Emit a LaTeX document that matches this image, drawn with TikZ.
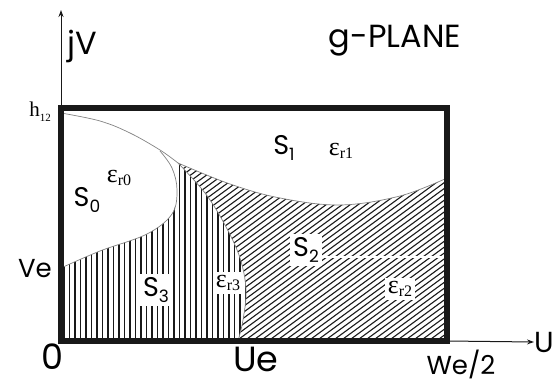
\documentclass[tikz,border=0pt]{standalone}
\usepackage{fontspec}
\setmainfont{Poppins}
\newfontfamily\grkfont{Liberation Serif}
\usepackage{tikz}
\usetikzlibrary{arrows.meta, calc}
\definecolor{mydark}{RGB}{25,25,25}
\definecolor{mycurve}{RGB}{130,130,130}
\newcommand{\sublbl}[1]{\raisebox{-0.45ex}{\fontsize{17}{17}\selectfont #1}}
\newcommand{\epsr}[1]{{\grkfont ε\raisebox{-0.3ex}{\fontsize{16}{16}\selectfont r#1}}}
\tikzset{
  frame/.style={line width=5.5pt, color=mydark},
  axis/.style={-{Stealth[length=7pt, width=5pt]}, line width=1pt, color=mydark},
  boundary/.style={line width=0.7pt, color=mycurve},
  hatch/.style={line width=1.1pt, color=mydark},
  gapline/.style={line width=1.2pt, color=white},
  bigtxt/.style={font=\fontsize{35}{38}\selectfont, inner sep=0pt},
  axtxt/.style={font=\fontsize{32}{36}\selectfont, inner sep=0pt},
  ticktxt/.style={font=\fontsize{26}{30}\selectfont, inner sep=0pt},
  regtxt/.style={font=\fontsize{27}{30}\selectfont, inner sep=1pt},
  epstxt/.style={font=\fontsize{26}{28}\selectfont, inner sep=1pt},
  htxt/.style={font=\grkfont\fontsize{21}{22}\selectfont, inner sep=0pt},
  knock/.style={fill=white, inner sep=3pt}
}
\begin{document}
\begin{tikzpicture}[x=1pt, y=-1pt]
  \useasboundingbox (0,0) rectangle (553,382);
  % ── key points ───────────────────────────────────────────────
  \coordinate (O) at (61,341);
  \coordinate (H) at (61,108);
  \coordinate (R) at (447,108);
  \coordinate (W) at (447,341);
  \coordinate (Ve) at (61,268);
  \coordinate (J) at (178,163);
  \coordinate (Utip) at (534,342);

  % ── S3: vertical hatching ────────────────────────────────────
  \begin{scope}
    \clip (Ve) -- plot[smooth, tension=0.6] coordinates {(61,268) (100,251) (147,234) (172,214) (177,190)}
      -- (J) -- plot[smooth, tension=0.6] coordinates {(178,163) (205,193) (225,225) (240,258) (246,290) (243,320) (238,341)}
      -- (O) -- cycle;
    \foreach \x in {64,69.5,...,250} \draw[hatch] (\x,150) -- (\x,345);
  \end{scope}

  % ── S2: diagonal hatching ────────────────────────────────────
  \begin{scope}
    \clip (J) -- plot[smooth, tension=0.6] coordinates {(178,163) (205,193) (225,225) (240,258) (246,290) (243,320) (238,341)}
      -- (W) -- (447,178)
      -- plot[smooth, tension=0.6] coordinates {(447,178) (400,196) (340,205) (280,198) (230,184) (178,163)} -- cycle;
    \foreach \s in {-160,-152,...,460} \draw[hatch] (\s,350) -- ++(300,-220);
  \end{scope}

  % ── region boundaries ────────────────────────────────────────
  \draw[boundary] plot[smooth, tension=0.6] coordinates {(61,113) (100,121) (130,133) (160,150) (178,163)};
  \draw[boundary] plot[smooth, tension=0.6] coordinates {(178,163) (230,184) (280,198) (340,205) (400,196) (447,178)};
  \draw[boundary] plot[smooth, tension=0.6] coordinates {(61,268) (100,251) (147,234) (172,214) (177,190) (172,168) (160,151)};
  \draw[boundary] plot[smooth, tension=0.6] coordinates {(178,163) (205,193) (225,225) (240,258) (246,290) (243,320) (238,341)};

  % ── frame and axes ───────────────────────────────────────────
  \draw[axis] (O) -- (61,10);
  \draw[axis] (W) -- (Utip);
  \draw[frame] (O) rectangle (R);

  % ── labels in hatched areas (knocked out) ────────────────────
  \node[regtxt, knock] (s3) at (156,290) {S\sublbl{3}};
  \node[epstxt, knock] (e3) at (228,283) {\epsr{3}};
  \node[regtxt, knock] (s2) at (306,250) {S\sublbl{2}};
  \node[epstxt, knock] (e2) at (400,289) {\epsr{2}};
  \draw[gapline] (s2.east |- 0,257) -- (444,257);

  % ── other labels ─────────────────────────────────────────────
  \node[regtxt] (s1) at (284,148) {S\sublbl{1}};
  \node[epstxt] (e1) at (341,151) {\epsr{1}};
  \node[regtxt] (s0) at (87,200) {S\sublbl{0}};
  \node[epstxt] (e0) at (119,178) {\epsr{0}};
  \node[axtxt] (jv) at (82,46) {jV};
  \node[axtxt] (gplane) at (395,41) {g-PLANE};
  \node[htxt] (h12) at (40,112) {h\raisebox{-0.5ex}{\fontsize{11}{11}\selectfont 12}};
  \node[ticktxt] (ve) at (35,269) {Ve};
  \node[bigtxt] (zero) at (52,357) {0};
  \node[bigtxt] (ue) at (256,359) {Ue};
  \node[ticktxt] (we) at (461,364) {We/2};
  \node[font=\fontsize{29}{32}\selectfont, inner sep=0pt, anchor=west] (u) at (Utip) {U};
\end{tikzpicture}
\end{document}
